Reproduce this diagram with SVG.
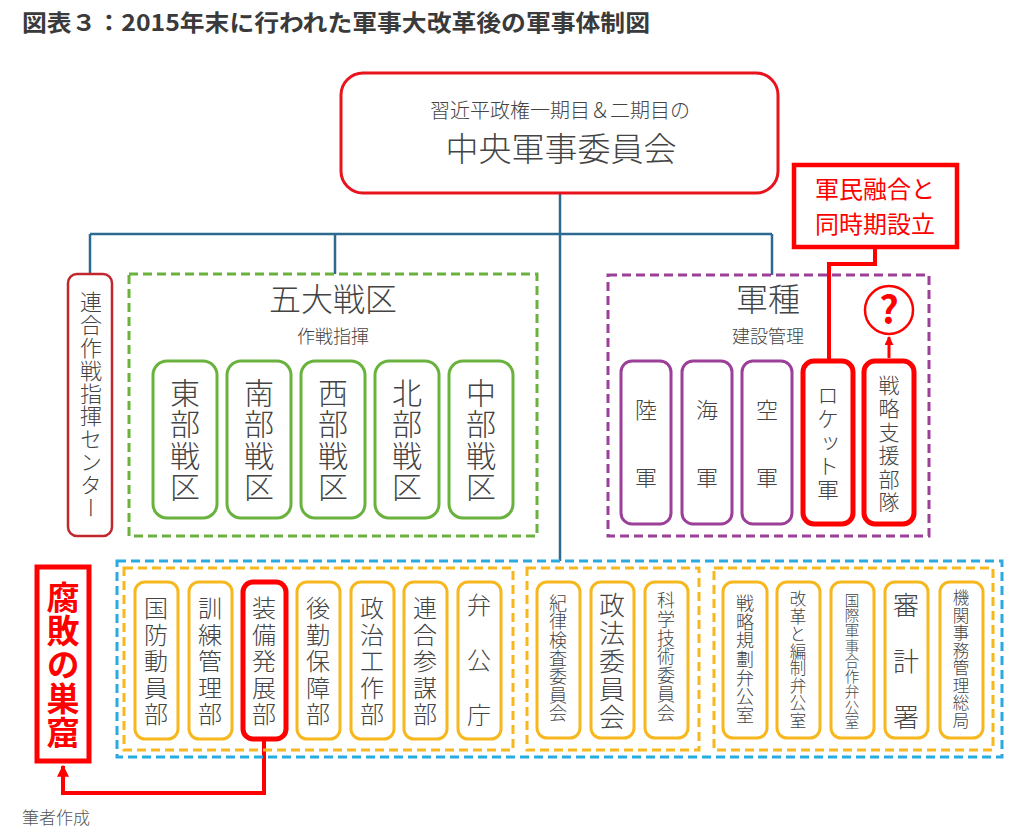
<svg xmlns="http://www.w3.org/2000/svg" width="1023" height="836" viewBox="0 0 1023 836">
<defs>
<style>
text{font-family:"Noto Sans CJK JP","Noto Sans",sans-serif;fill:#444;text-anchor:middle;font-weight:300}
.vt{writing-mode:vertical-rl}
.title{font-weight:700;font-size:23px;text-anchor:start;fill:#3a3a3a}
.conn{fill:none;stroke:#2d6a8f;stroke-width:2.5}
.red{fill:none;stroke:#f00;stroke-width:4}
.gdash{fill:none;stroke:#6ab23e;stroke-width:3;stroke-dasharray:9 5}
.pdash{fill:none;stroke:#9c3f98;stroke-width:3;stroke-dasharray:9 5}
.bdash{fill:none;stroke:#29aae1;stroke-width:3;stroke-dasharray:9 5}
.odash{fill:none;stroke:#f6b81e;stroke-width:3;stroke-dasharray:9 5}
.gbox{fill:#fff;stroke:#6ab23e;stroke-width:3}
.pbox{fill:#fff;stroke:#9c3f98;stroke-width:3}
.obox{fill:#fff;stroke:#f6b81e;stroke-width:3}
.rbox{fill:#fff;stroke:#f00;stroke-width:5}
.redtxt{fill:#f00}
.bold{font-weight:700}
.reg{font-weight:400}
</style>
<marker id="ah" viewBox="0 0 10 10" refX="9" refY="5" markerWidth="3" markerHeight="3" orient="auto" markerUnits="strokeWidth">
<path d="M0,0 L10,5 L0,10 z" fill="#f00"/>
</marker>
</defs>
<rect width="1023" height="836" fill="#fff"/>
<text class="title" x="22" y="31" textLength="628" lengthAdjust="spacingAndGlyphs">図表３：2015年末に行われた軍事大改革後の軍事体制図</text>

<g id="connectors">
<path class="conn" d="M560,194 V561 M90,234 H772 M90,234 V274 M335,234 V274 M772,234 V275"/>
<path class="red" d="M875,248 V264 H829 V360"/>
<path stroke="#f00" stroke-width="3" fill="none" d="M889,358 V337" marker-end="url(#ah)"/>
<path class="red" d="M264,740 V793 H63 V766" marker-end="url(#ah)"/>
</g>

<g id="cmc">
<rect x="341" y="73" width="437" height="120" rx="22" fill="#fff" stroke="#e8131c" stroke-width="3"/>
<text x="560" y="118" font-size="20">習近平政権一期目＆二期目の</text>
<text x="561" y="161" font-size="33">中央軍事委員会</text>
</g>

<g id="note-civil">
<rect x="794" y="165" width="163" height="82" fill="#fff" stroke="#f00" stroke-width="4.5"/>
<text class="redtxt reg" x="875" y="198" font-size="24">軍民融合と</text>
<text class="redtxt reg" x="875" y="233" font-size="24">同時期設立</text>
</g>

<g id="jointcmd">
<rect x="68" y="274" width="44" height="262" rx="9" fill="#fff" stroke="#c1272d" stroke-width="2.5"/>
<text class="vt" font-size="22"><tspan x="91" y="302">連</tspan><tspan x="91" y="325">合</tspan><tspan x="91" y="348">作</tspan><tspan x="91" y="371">戦</tspan><tspan x="91" y="394">指</tspan><tspan x="91" y="416">揮</tspan><tspan x="91" y="439">セ</tspan><tspan x="91" y="462">ン</tspan><tspan x="91" y="485">タ</tspan><tspan x="91" y="508">ー</tspan></text>
</g>

<g id="theaters">
<rect class="gdash" x="129" y="274" width="408" height="262"/>
<text x="333" y="311" font-size="32">五大戦区</text>
<text x="333" y="343" font-size="18">作戦指揮</text>
</g>
<g id="th-east"><rect class="gbox" x="153" y="361" width="64" height="157" rx="14"/>
<text class="vt" font-size="30"><tspan x="185" y="393">東</tspan><tspan x="185" y="424">部</tspan><tspan x="185" y="456">戦</tspan><tspan x="185" y="487">区</tspan></text></g>
<g id="th-south"><rect class="gbox" x="227" y="361" width="64" height="157" rx="14"/>
<text class="vt" font-size="30"><tspan x="259" y="393">南</tspan><tspan x="259" y="424">部</tspan><tspan x="259" y="456">戦</tspan><tspan x="259" y="487">区</tspan></text></g>
<g id="th-west"><rect class="gbox" x="301" y="361" width="64" height="157" rx="14"/>
<text class="vt" font-size="30"><tspan x="333" y="393">西</tspan><tspan x="333" y="424">部</tspan><tspan x="333" y="456">戦</tspan><tspan x="333" y="487">区</tspan></text></g>
<g id="th-north"><rect class="gbox" x="375" y="361" width="64" height="157" rx="14"/>
<text class="vt" font-size="30"><tspan x="407" y="393">北</tspan><tspan x="407" y="424">部</tspan><tspan x="407" y="456">戦</tspan><tspan x="407" y="487">区</tspan></text></g>
<g id="th-central"><rect class="gbox" x="449" y="361" width="64" height="157" rx="14"/>
<text class="vt" font-size="30"><tspan x="481" y="393">中</tspan><tspan x="481" y="424">部</tspan><tspan x="481" y="456">戦</tspan><tspan x="481" y="487">区</tspan></text></g>

<g id="services">
<rect class="pdash" x="608" y="275" width="321" height="261"/>
<text x="768" y="311" font-size="32">軍種</text>
<text x="768" y="343" font-size="18">建設管理</text>
</g>
<g id="sv-army"><rect class="pbox" x="621" y="361" width="50" height="163" rx="11"/>
<text class="vt" font-size="22"><tspan x="646" y="410">陸</tspan><tspan x="646" y="478">軍</tspan></text></g>
<g id="sv-navy"><rect class="pbox" x="682" y="361" width="50" height="163" rx="11"/>
<text class="vt" font-size="22"><tspan x="707" y="410">海</tspan><tspan x="707" y="478">軍</tspan></text></g>
<g id="sv-air"><rect class="pbox" x="742" y="361" width="50" height="163" rx="11"/>
<text class="vt" font-size="22"><tspan x="767" y="410">空</tspan><tspan x="767" y="478">軍</tspan></text></g>
<g id="sv-rocket"><rect class="rbox" x="803" y="361" width="50" height="163" rx="11"/>
<text class="vt" font-size="22"><tspan x="828" y="395">ロ</tspan><tspan x="828" y="419">ケ</tspan><tspan x="828" y="443">ッ</tspan><tspan x="828" y="466">ト</tspan><tspan x="828" y="490">軍</tspan></text></g>
<g id="sv-ssf"><rect class="rbox" x="864" y="361" width="50" height="163" rx="11"/>
<text class="vt" font-size="21"><tspan x="889" y="385">戦</tspan><tspan x="889" y="408">略</tspan><tspan x="889" y="432">支</tspan><tspan x="889" y="455">援</tspan><tspan x="889" y="479">部</tspan><tspan x="889" y="502">隊</tspan></text></g>
<g id="question">
<circle cx="889" cy="310" r="24" fill="#fff" stroke="#f00" stroke-width="2.5"/>
<text class="redtxt bold" x="889" y="324" font-size="38">?</text>
</g>

<g id="cmc-organs">
<rect class="bdash" x="117" y="561" width="885" height="196"/>
<rect class="odash" x="124" y="568" width="389" height="182"/>
<rect class="odash" x="527" y="568" width="172" height="182"/>
<rect class="odash" x="714" y="568" width="279" height="182"/>
</g>

<g id="d1"><rect class="obox" x="135" y="582" width="43" height="157" rx="10"/>
<text class="vt" font-size="24"><tspan x="156" y="608">国</tspan><tspan x="156" y="634.5">防</tspan><tspan x="156" y="661">動</tspan><tspan x="156" y="687.5">員</tspan><tspan x="156" y="714">部</tspan></text></g>
<g id="d2"><rect class="obox" x="189" y="582" width="43" height="157" rx="10"/>
<text class="vt" font-size="24"><tspan x="210" y="608">訓</tspan><tspan x="210" y="634.5">練</tspan><tspan x="210" y="661">管</tspan><tspan x="210" y="687.5">理</tspan><tspan x="210" y="714">部</tspan></text></g>
<g id="d3"><rect class="rbox" x="243" y="582" width="43" height="157" rx="10"/>
<text class="vt" font-size="24"><tspan x="264" y="608">装</tspan><tspan x="264" y="634.5">備</tspan><tspan x="264" y="661">発</tspan><tspan x="264" y="687.5">展</tspan><tspan x="264" y="714">部</tspan></text></g>
<g id="d4"><rect class="obox" x="297" y="582" width="43" height="157" rx="10"/>
<text class="vt" font-size="24"><tspan x="318" y="608">後</tspan><tspan x="318" y="634.5">勤</tspan><tspan x="318" y="661">保</tspan><tspan x="318" y="687.5">障</tspan><tspan x="318" y="714">部</tspan></text></g>
<g id="d5"><rect class="obox" x="351" y="582" width="43" height="157" rx="10"/>
<text class="vt" font-size="24"><tspan x="372" y="608">政</tspan><tspan x="372" y="634.5">治</tspan><tspan x="372" y="661">工</tspan><tspan x="372" y="687.5">作</tspan><tspan x="372" y="714">部</tspan></text></g>
<g id="d6"><rect class="obox" x="404" y="582" width="43" height="157" rx="10"/>
<text class="vt" font-size="24"><tspan x="425" y="608">連</tspan><tspan x="425" y="634.5">合</tspan><tspan x="425" y="661">参</tspan><tspan x="425" y="687.5">謀</tspan><tspan x="425" y="714">部</tspan></text></g>
<g id="d7"><rect class="obox" x="458" y="582" width="43" height="157" rx="10"/>
<text class="vt" font-size="24"><tspan x="479" y="605">弁</tspan><tspan x="479" y="660">公</tspan><tspan x="479" y="715">庁</tspan></text></g>

<g id="c1"><rect class="obox" x="537" y="582" width="43" height="156" rx="10"/>
<text class="vt" font-size="18"><tspan x="558" y="603">紀</tspan><tspan x="558" y="621.3">律</tspan><tspan x="558" y="639.7">検</tspan><tspan x="558" y="658">査</tspan><tspan x="558" y="676.3">委</tspan><tspan x="558" y="694.7">員</tspan><tspan x="558" y="713">会</tspan></text></g>
<g id="c2"><rect class="obox" x="591" y="582" width="43" height="156" rx="10"/>
<text class="vt" font-size="26"><tspan x="612" y="605">政</tspan><tspan x="612" y="633">法</tspan><tspan x="612" y="661">委</tspan><tspan x="612" y="689">員</tspan><tspan x="612" y="717">会</tspan></text></g>
<g id="c3"><rect class="obox" x="645" y="582" width="43" height="156" rx="10"/>
<text class="vt" font-size="18"><tspan x="666" y="600">科</tspan><tspan x="666" y="618.8">学</tspan><tspan x="666" y="637.7">技</tspan><tspan x="666" y="656.5">術</tspan><tspan x="666" y="675.3">委</tspan><tspan x="666" y="694.2">員</tspan><tspan x="666" y="713">会</tspan></text></g>

<g id="o1"><rect class="obox" x="723" y="582" width="44" height="156" rx="10"/>
<text class="vt" font-size="18"><tspan x="745" y="603">戦</tspan><tspan x="745" y="621.7">略</tspan><tspan x="745" y="640.3">規</tspan><tspan x="745" y="659">劃</tspan><tspan x="745" y="677.7">弁</tspan><tspan x="745" y="696.3">公</tspan><tspan x="745" y="715">室</tspan></text></g>
<g id="o2"><rect class="obox" x="777" y="582" width="43" height="156" rx="10"/>
<text class="vt" font-size="16.5"><tspan x="798" y="599">改</tspan><tspan x="798" y="616.3">革</tspan><tspan x="798" y="633.6">と</tspan><tspan x="798" y="650.9">編</tspan><tspan x="798" y="668.1">制</tspan><tspan x="798" y="685.4">弁</tspan><tspan x="798" y="702.7">公</tspan><tspan x="798" y="720">室</tspan></text></g>
<g id="o3"><rect class="obox" x="831" y="582" width="43" height="156" rx="10"/>
<text class="vt" font-size="14.5"><tspan x="852" y="600">国</tspan><tspan x="852" y="615.3">際</tspan><tspan x="852" y="630.5">軍</tspan><tspan x="852" y="645.8">事</tspan><tspan x="852" y="661">合</tspan><tspan x="852" y="676.3">作</tspan><tspan x="852" y="691.5">弁</tspan><tspan x="852" y="706.8">公</tspan><tspan x="852" y="722">室</tspan></text></g>
<g id="o4"><rect class="obox" x="885" y="582" width="43" height="156" rx="10"/>
<text class="vt" font-size="26"><tspan x="906" y="605">審</tspan><tspan x="906" y="661">計</tspan><tspan x="906" y="717">署</tspan></text></g>
<g id="o5"><rect class="obox" x="940" y="582" width="43" height="156" rx="10"/>
<text class="vt" font-size="16.5"><tspan x="961" y="598">機</tspan><tspan x="961" y="615.4">関</tspan><tspan x="961" y="632.9">事</tspan><tspan x="961" y="650.3">務</tspan><tspan x="961" y="667.7">管</tspan><tspan x="961" y="685.1">理</tspan><tspan x="961" y="702.6">総</tspan><tspan x="961" y="720">局</tspan></text></g>

<g id="note-corruption">
<rect x="37" y="567" width="52" height="194" fill="#fff" stroke="#f00" stroke-width="5"/>
<text class="vt redtxt bold" font-size="33"><tspan x="63" y="597">腐</tspan><tspan x="63" y="630.8">敗</tspan><tspan x="63" y="664.5">の</tspan><tspan x="63" y="698.3">巣</tspan><tspan x="63" y="732">窟</tspan></text>
</g>

<text x="22" y="824" font-size="17" style="text-anchor:start;fill:#555">筆者作成</text>
</svg>
